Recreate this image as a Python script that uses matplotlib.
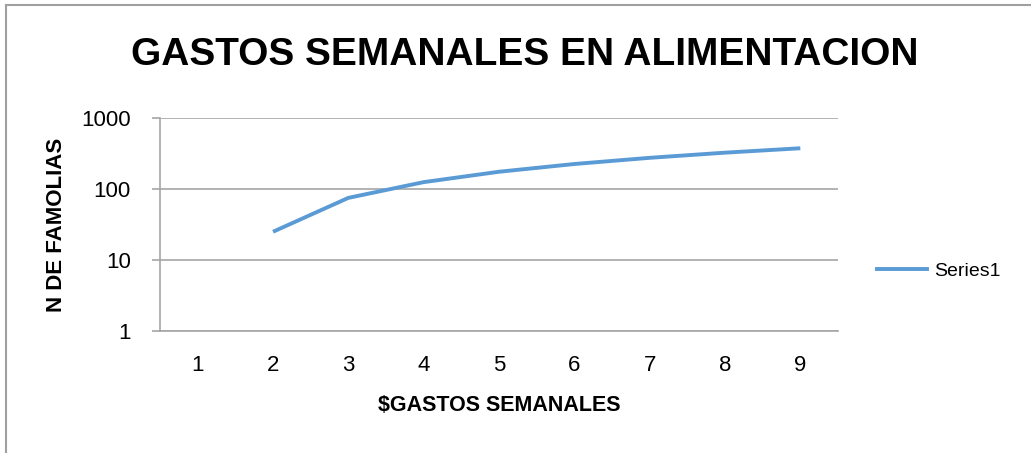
import numpy as np
import matplotlib
matplotlib.use("Agg")
import matplotlib.pyplot as plt
from matplotlib.lines import Line2D
from matplotlib.ticker import NullLocator

# --- data ---
categories = [1, 2, 3, 4, 5, 6, 7, 8, 9]
familias = [np.nan, 25, 75, 125, 175, 225, 275, 325, 375]
y_ticks = [1, 10, 100, 1000]

TITLE = "GASTOS SEMANALES EN ALIMENTACION"
XLABEL = "$GASTOS SEMANALES"
YLABEL = "N DE FAMOLIAS"
SERIES = "Series1"

LINE_COLOR = "#5B9BD5"
GRID_COLOR = "#A6A6A6"
BORDER_COLOR = "#A0A0A0"

plt.rcParams["font.family"] = ["Liberation Sans", "DejaVu Sans"]

fig = plt.figure(figsize=(10.31, 4.53), dpi=100)
ax = fig.add_axes([0.1552, 0.2693, 0.6576, 0.4702])

ax.plot(categories, familias, color=LINE_COLOR, lw=2.8, solid_capstyle="butt")
ax.set_yscale("log")
ax.set_ylim(1, 1000)
ax.set_xlim(0.5, 9.5)
ax.set_yticks(y_ticks)
ax.set_yticklabels([str(v) for v in y_ticks])
ax.yaxis.set_minor_locator(NullLocator())
ax.set_xticks(categories)
ax.set_xticklabels([str(c) for c in categories])

ax.grid(axis="y", color=GRID_COLOR, lw=1.2)
ax.set_axisbelow(True)
for side in ["top", "right"]:
    ax.spines[side].set_visible(False)
for side in ["left", "bottom"]:
    ax.spines[side].set_color(GRID_COLOR)
    ax.spines[side].set_linewidth(1.2)
ax.tick_params(axis="y", length=6, color=GRID_COLOR, width=1.2, pad=15, labelsize=16)
ax.tick_params(axis="x", length=0, pad=17, labelsize=16)

ax.set_xlabel(XLABEL, fontsize=15.5, fontweight="bold", labelpad=14)
ax.set_ylabel(YLABEL, fontsize=16, fontweight="bold", va="center")
ax.yaxis.set_label_coords(-0.152, 0.5)

fig.text(0.5087, 0.879, TITLE, ha="center", va="center", fontsize=28, fontweight="bold")

# legend on the right
handle = Line2D([], [], color=LINE_COLOR, lw=2.8)
fig.legend([handle], [SERIES], loc="center left", bbox_to_anchor=(0.8335, 0.402),
           frameon=False, fontsize=14, handlelength=2.6, handletextpad=0.35)

# outer chart border (only top and left edges are visible)
fig.add_artist(Line2D([0.006, 1.0], [0.989, 0.989], transform=fig.transFigure,
                      color=BORDER_COLOR, lw=1.5))
fig.add_artist(Line2D([0.006, 0.006], [0.0, 0.989], transform=fig.transFigure,
                      color=BORDER_COLOR, lw=1.5))

fig.savefig("out.png", dpi=100)
